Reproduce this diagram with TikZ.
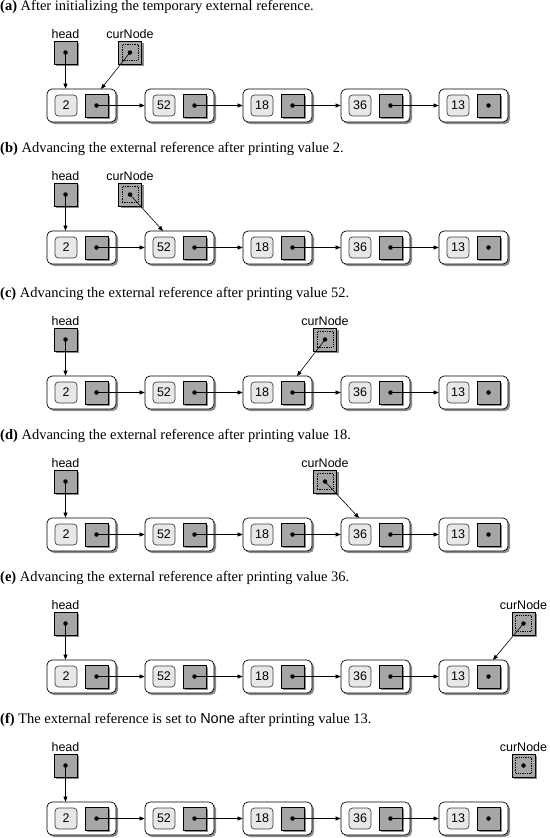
\documentclass[tikz,border=0pt]{standalone}
\usepackage{fontspec}
\setmainfont{Liberation Serif}
\setsansfont{Liberation Sans}
\usetikzlibrary{arrows.meta,shadows,calc}
\tikzset{
  shd/.style={drop shadow={shadow xshift=2pt,shadow yshift=-2pt,fill=black!45,opacity=1}},
  outerbox/.style={draw=black, line width=0.7pt, fill=white, rounded corners=5pt, minimum width=69pt, minimum height=33pt, inner sep=0pt, shd},
  valbox/.style={draw=black!75, line width=0.7pt, fill=black!9, rounded corners=3.5pt, minimum width=22pt, minimum height=21pt, inner sep=0pt, font=\sffamily\fontsize{12.5}{13}\selectfont},
  linkbox/.style={draw=black, line width=0.7pt, fill=black!35, minimum size=23pt, inner sep=0pt, shd},
  innerdash/.style={draw=black, line width=0.6pt, dash pattern=on 1.3pt off 1pt, minimum size=16pt, inner sep=0pt},
  dotnode/.style={circle, fill=black, inner sep=0pt, minimum size=4.5pt},
  lbl/.style={font=\sffamily\fontsize{12.5}{13}\selectfont, inner sep=0pt, anchor=base},
  capt/.style={font=\fontsize{14.5}{16}\selectfont, inner sep=0pt, anchor=base west},
  ptr/.style={-{Triangle[length=5pt,width=4pt]}, line width=0.6pt}
}
% #1 id, #2 offset, #3 caption, #4 curNode x
\newcommand{\llpanel}[4]{%
  \begin{scope}[yshift=-#2pt]
    \node[capt] (#1cap) at (0,10) {#3};
    \node[lbl] (#1hl) at (65.5,38.5) {head};
    \node[linkbox] (#1hb) at (65.5,52.5) {};
    \node[dotnode] (#1hd) at (#1hb.center) {};
    \node[lbl] (#1cl) at (#4,38.5) {curNode};
    \node[linkbox] (#1cb) at (#4,52.5) {};
    \node[innerdash] (#1ci) at (#1cb.center) {};
    \node[dotnode] (#1cd) at (#1cb.center) {};
    \foreach \v [count=\i from 0] in {2,52,18,36,13} {
      \pgfmathsetmacro\cx{81.5+98*\i}
      \node[outerbox] (#1o\i) at (\cx,105.5) {};
      \node[valbox] (#1v\i) at (\cx-15.5,105.5) {\v};
      \node[linkbox] (#1l\i) at (\cx+15,105.5) {};
      \node[dotnode] (#1d\i) at (#1l\i.center) {};
    }
    \foreach \i/\j in {0/1,1/2,2/3,3/4}
      \draw[ptr] (#1d\i.center) -- (#1o\j.west);
    \draw[ptr] (#1hd.center) -- (#1hd.center |- #1o0.north);
  \end{scope}%
}
% #1 id, #2 offset, #3 target x
\newcommand{\curptr}[3]{%
  \begin{scope}[yshift=-#2pt]
    \coordinate (#1ct) at (#3,89);
    \draw[ptr] (#1cd.center) -- (#1ct);
  \end{scope}%
}
\begin{document}
\begin{tikzpicture}[x=1pt,y=-1pt]
\useasboundingbox (0,0) rectangle (549,838);
\llpanel{a}{0}{\textbf{(a)} After initializing the temporary external reference.}{130}
\curptr{a}{0}{101}
\llpanel{b}{142}{\textbf{(b)} Advancing the external reference after printing value 2.}{130}
\curptr{b}{142}{163}
\llpanel{c}{287}{\textbf{(c)} Advancing the external reference after printing value 52.}{325}
\curptr{c}{287}{297}
\llpanel{d}{429}{\textbf{(d)} Advancing the external reference after printing value 18.}{325}
\curptr{d}{429}{359}
\llpanel{e}{571}{\textbf{(e)} Advancing the external reference after printing value 36.}{523.5}
\curptr{e}{571}{493}
\llpanel{f}{713}{\textbf{(f)} The external reference is set to \textsf{None} after printing value 13.}{523.5}
\end{tikzpicture}
\end{document}
